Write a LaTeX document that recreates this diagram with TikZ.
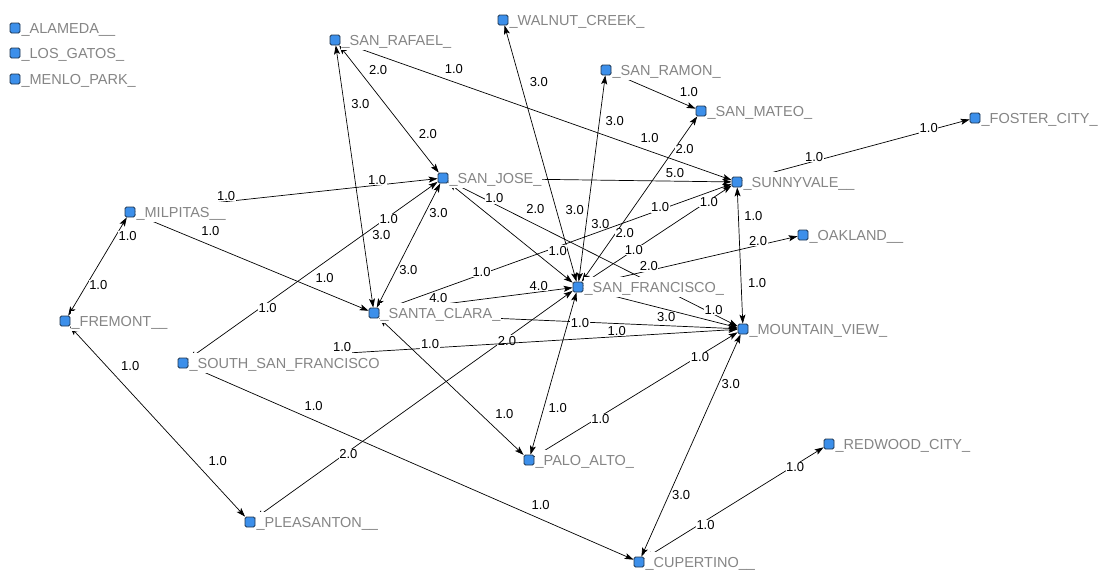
\documentclass[tikz,border=0pt]{standalone}
\usepackage{fontspec}
\setmainfont{Liberation Sans}
\usetikzlibrary{arrows.meta}
\definecolor{cityblue}{HTML}{3C8FEA}
\definecolor{cityrim}{HTML}{1F3550}
\definecolor{tagtext}{HTML}{858585}
\pgfdeclarelayer{background}
\pgfsetlayers{background,main}
\tikzset{
	city/.style={draw=cityrim, fill=cityblue, line width=0.8pt, rounded corners=1.5pt, minimum size=10pt, inner sep=0pt},
	tag/.style={fill=white, text=tagtext, inner xsep=1pt, inner ysep=1pt, text height=14pt, text depth=4pt, font=\fontsize{14.5}{17}\selectfont},
	link/.style={{Stealth[length=9pt,width=6pt,inset=2pt]}-{Stealth[length=9pt,width=6pt,inset=2pt]}, line width=0.7pt},
	oneway/.style={-{Stealth[length=9pt,width=6pt,inset=2pt]}, line width=0.7pt},
	w/.style={fill=white, inner sep=0.6pt, font=\fontsize{13}{15}\selectfont},
}

\begin{document}
\begin{tikzpicture}[x=1pt,y=-1pt]
	\useasboundingbox (0,0) rectangle (1109,574);
	% cities
	\node[city,label={[tag]right:\_ALAMEDA\_\_}] (ala) at (15,28) {};
	\node[city,label={[tag]right:\_LOS\_GATOS\_}] (los) at (15,53) {};
	\node[city,label={[tag]right:\_MENLO\_PARK\_}] (men) at (15,79) {};
	\node[city,label={[tag]right:\_SAN\_RAFAEL\_}] (srf) at (335,40) {};
	\node[city,label={[tag]right:\_WALNUT\_CREEK\_}] (wal) at (503,20) {};
	\node[city,label={[tag]right:\_SAN\_RAMON\_}] (sra) at (606,70) {};
	\node[city,label={[tag]right:\_SAN\_MATEO\_}] (smt) at (701,111) {};
	\node[city,label={[tag]right:\_FOSTER\_CITY\_}] (fos) at (975,118) {};
	\node[city,label={[tag]right:\_SUNNYVALE\_\_}] (sun) at (737,182) {};
	\node[city,label={[tag]right:\_OAKLAND\_\_}] (oak) at (803,235) {};
	\node[city,label={[tag]right:\_SAN\_JOSE\_}] (sjo) at (443,178) {};
	\node[city,label={[tag]right:\_MILPITAS\_\_}] (mil) at (130,212) {};
	\node[city,label={[tag]right:\_FREMONT\_\_}] (fre) at (65,321) {};
	\node[city,label={[tag]right:\_SANTA\_CLARA\_}] (scl) at (374,313) {};
	\node[city,label={[tag]right:\_SAN\_FRANCISCO\_}] (sfr) at (578,287) {};
	\node[city,label={[tag]right:\_MOUNTAIN\_VIEW\_}] (mtv) at (743,329) {};
	\node[city,label={[tag]right:\_SOUTH\_SAN\_FRANCISCO}] (ssf) at (183,363) {};
	\node[city,label={[tag]right:\_PALO\_ALTO\_}] (pal) at (529,460) {};
	\node[city,label={[tag]right:\_REDWOOD\_CITY\_}] (red) at (829,444) {};
	\node[city,label={[tag]right:\_PLEASANTON\_\_}] (ple) at (250,522) {};
	\node[city,label={[tag]right:\_CUPERTINO\_\_}] (cup) at (639,562) {};

	% links
	\begin{pgfonlayer}{background}
	\draw[link] (srf) -- (sjo) node[w,pos=.27,shift={(12,-10)}]{2.0} node[w,pos=.77,shift={(12,-9)}]{2.0};
	\draw[link] (srf) -- (scl) node[w,pos=.23,shift={(16,-2)}]{3.0} node[w,pos=.735,shift={(18,-3)}]{3.0};
	\draw[link] (srf) -- (sun) node[w,pos=.28,shift={(4,-12)}]{1.0} node[w,pos=.78,shift={(4,-12)}]{1.0};
	\draw[link] (wal) -- (sfr) node[w,pos=.24,shift={(17,-5)}]{3.0} node[w,pos=.74,shift={(17,-5)}]{3.0};
	\draw[link] (sra) -- (sfr) node[w,pos=.21,shift={(15,2)}]{3.0} node[w,pos=.71,shift={(14,2)}]{3.0};
	\draw[link] (sra) -- (smt) node[w,pos=.86,shift={(5,-12)}]{1.0};
	\draw[link] (smt) -- (sfr) node[w,pos=.17,shift={(7,5)}]{2.0} node[w,pos=.68,shift={(6,4)}]{2.0};
	\draw[link] (sun) -- (fos) node[w,pos=.32,shift={(-1,-4)}]{1.0} node[w,pos=.82,shift={(0,-2)}]{1.0};
	\draw[link] (sjo) -- (sun) node[w,pos=.80,shift={(0,-8)}]{5.0};
	\draw[link] (mil) -- (sjo) node[w,pos=.30,shift={(0,-6)}]{1.0} node[w,pos=.80,shift={(0,-5)}]{1.0};
	\draw[link] (mil) -- (scl) node[w,pos=.30,shift={(5,-12)}]{1.0} node[w,pos=.79,shift={(5,-12)}]{1.0};
	\draw[link] (fre) -- (mil) node[w,pos=.36,shift={(9,5)}]{1.0} node[w,pos=.86,shift={(9,5)}]{1.0};
	\draw[link] (fre) -- (ple) node[w,pos=.27,shift={(13,-12)}]{1.0} node[w,pos=.77,shift={(13,-12)}]{1.0};
	\draw[link] (ple) -- (sfr) node[w,pos=.29,shift={(1,2)}]{2.0} node[w,pos=.79,shift={(1,2)}]{2.0};
	\draw[link] (scl) -- (sfr) node[w,pos=.31,shift={(-1,-7)}]{4.0} node[w,pos=.83,shift={(-1,-6)}]{4.0};
	\draw[link] (sun) -- (scl) node[w,pos=.20,shift={(-1,-2)}]{1.0} node[w,pos=.71,shift={(0,-2)}]{1.0};
	\draw[link] (sun) -- (sfr) node[w,pos=.16,shift={(1,1)}]{1.0} node[w,pos=.66,shift={(0,0)}]{1.0};
	\draw[link] (sun) -- (mtv) node[w,pos=.21,shift={(15,0)}]{1.0} node[w,pos=.70,shift={(16,0)}]{1.0};
	\draw[link] (sfr) -- (oak) node[w,pos=.31,shift={(-1,-4)}]{2.0} node[w,pos=.82,shift={(-1,-4)}]{2.0};
	\draw[link] (sfr) -- (mtv) node[w,pos=.55,shift={(-2,7)}]{3.0};
	\draw[link] (sjo) -- (mtv) node[w,pos=.28,shift={(6,-12)}]{2.0} node[w,pos=.91,shift={(2,-3)}]{1.0};
	\draw[link] (sjo) -- (sfr) node[w,pos=.29,shift={(10,-13)}]{1.0} node[w,pos=.80,shift={(10,-12)}]{1.0};
	\draw[link] (ssf) -- (sjo) node[w,pos=.31,shift={(2,4)}]{1.0} node[w,pos=.80,shift={(1,2)}]{1.0};
	\draw[link] (ssf) -- (mtv) node[w,pos=.28,shift={(0,-6)}]{1.0} node[w,pos=.44,shift={(0,-4)}]{1.0} node[w,pos=.78,shift={(0,-6)}]{1.0};
	\draw[link] (ssf) -- (cup) node[w,pos=.27,shift={(5,-12)}]{1.0} node[w,pos=.78,shift={(5,-12)}]{1.0};
	\draw[link] (scl) -- (mtv) node[w,pos=.56,shift={(0,1)}]{1.0};
	\draw[link] (scl) -- (pal) node[w,pos=.79,shift={(11,-12)}]{1.0};
	\draw[link] (sfr) -- (pal) node[w,pos=.69,shift={(13,4)}]{1.0};
	\draw[oneway] (pal) -- (mtv) node[w,pos=.32,shift={(1,2)}]{1.0} node[w,pos=.81,shift={(1,1)}]{1.0};
	\draw[link] (cup) -- (mtv) node[w,pos=.30,shift={(10,5)}]{3.0} node[w,pos=.80,shift={(10,5)}]{3.0};
	\draw[link] (cup) -- (red) node[w,pos=.33,shift={(2,3)}]{1.0} node[w,pos=.83,shift={(2,1)}]{1.0};
	\draw[link] (scl) -- (sjo) node[w,pos=.34,shift={(10,5)}]{3.0} node[w,pos=.83,shift={(9,9)}]{3.0};
	\end{pgfonlayer}
\end{tikzpicture}
\end{document}
